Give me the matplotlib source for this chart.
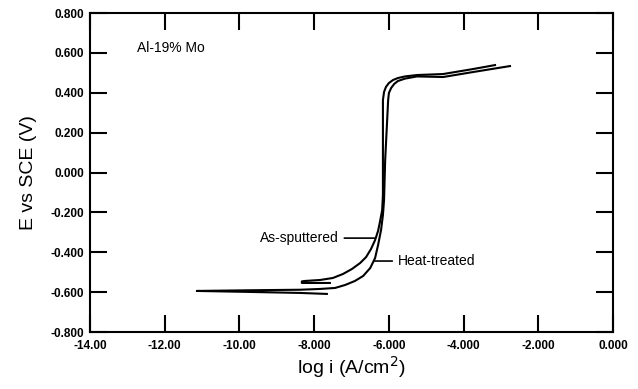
import matplotlib
matplotlib.use("Agg")
import matplotlib.pyplot as plt

# As-sputtered polarization curve (log i, E)
as_logi = [-7.58, -8.33, -8.33, -8.25, -7.84, -7.50, -7.23, -6.99, -6.77, -6.61,
           -6.48, -6.37, -6.29, -6.24, -6.18, -6.16, -6.16, -6.16, -6.13, -6.08,
           -6.00, -5.89, -5.76, -5.57, -5.25, -4.55, -3.75, -3.16]
as_e = [-0.554, -0.554, -0.546, -0.544, -0.539, -0.529, -0.509, -0.484, -0.454, -0.424,
        -0.384, -0.339, -0.293, -0.248, -0.188, -0.113, 0.113, 0.364, 0.404, 0.429,
        0.449, 0.464, 0.474, 0.482, 0.489, 0.494, 0.519, 0.539]

# Heat-treated polarization curve (log i, E)
ht_logi = [-7.66, -8.38, -9.72, -11.14, -9.45, -8.38, -7.84, -7.44, -7.17, -6.91,
           -6.69, -6.50, -6.37, -6.29, -6.21, -6.16, -6.13, -6.10, -6.02, -6.00,
           -5.94, -5.86, -5.76, -5.57, -5.25, -4.55, -3.75, -2.76]
ht_e = [-0.609, -0.604, -0.599, -0.594, -0.590, -0.588, -0.584, -0.579, -0.564, -0.544,
        -0.519, -0.479, -0.429, -0.364, -0.288, -0.213, -0.138, 0.063, 0.364, 0.399,
        0.424, 0.444, 0.459, 0.471, 0.482, 0.479, 0.504, 0.534]

x_ticks = [-14, -12, -10, -8, -6, -4, -2, 0]
x_ticklabels = ["-14.00", "-12.00", "-10.00", "-8.000", "-6.000", "-4.000", "-2.000", "0.000"]
y_ticks = [0.8, 0.6, 0.4, 0.2, 0.0, -0.2, -0.4, -0.6, -0.8]
y_ticklabels = ["0.800", "0.600", "0.400", "0.200", "0.000", "-0.200", "-0.400", "-0.600", "-0.800"]

plt.rcParams['font.family'] = ['Liberation Sans', 'DejaVu Sans']

fig = plt.figure(figsize=(6.38, 3.89), dpi=100)
ax = fig.add_axes([0.141, 0.1465, 0.820, 0.820])

ax.plot(as_logi, as_e, color='black', lw=1.5, solid_joinstyle='round')
ax.plot(ht_logi, ht_e, color='black', lw=1.5, solid_joinstyle='round')

ax.set_xlim(-14, 0)
ax.set_ylim(-0.8, 0.8)
ax.set_xticks(x_ticks)
ax.set_xticklabels(x_ticklabels)
ax.set_yticks(y_ticks)
ax.set_yticklabels(y_ticklabels)
ax.tick_params(direction='in', length=12, width=1.5, top=True, right=True,
               labelsize=8.5, pad=4)
ax.tick_params(axis='x', pad=6)
for lab in ax.get_xticklabels() + ax.get_yticklabels():
    lab.set_fontweight('bold')
for s in ax.spines.values():
    s.set_linewidth(1.5)

ax.set_xlabel("log i (A/cm$^2$)", fontsize=14, labelpad=1)
ax.set_ylabel("E vs SCE (V)", fontsize=14, labelpad=10)

ax.text(-12.74, 0.624, "Al-19% Mo", fontsize=10, va='center', ha='left')

ax.annotate("As-sputtered", xy=(-6.37, -0.329), xytext=(-9.45, -0.329),
            fontsize=10, va='center', ha='left',
            arrowprops=dict(arrowstyle='-', color='black', lw=1.2, shrinkA=2, shrinkB=0))
ax.annotate("Heat-treated", xy=(-6.40, -0.444), xytext=(-5.76, -0.444),
            fontsize=10, va='center', ha='left',
            arrowprops=dict(arrowstyle='-', color='black', lw=1.2, shrinkA=2, shrinkB=0))

fig.savefig("out.png", dpi=100)
